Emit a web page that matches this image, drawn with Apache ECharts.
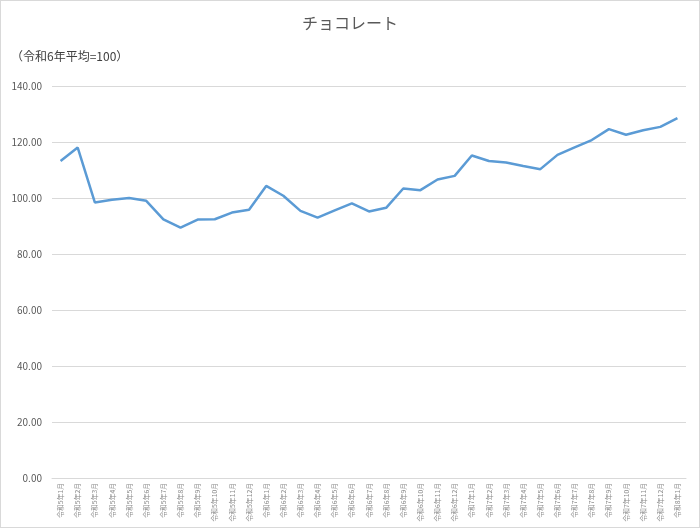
<!DOCTYPE html>
<html>
<head>
<meta charset="utf-8">
<script src="https://cdn.jsdelivr.net/npm/echarts@6/dist/echarts.min.js"></script>
<style>
html,body{margin:0;padding:0;background:#fff;}
#c{width:698px;height:526px;border:1px solid #d9d9d9;}
</style>
</head>
<body>
<div id="c"></div>
<script>
const categories = [
  "令和5年1月","令和5年2月","令和5年3月","令和5年4月","令和5年5月","令和5年6月",
  "令和5年7月","令和5年8月","令和5年9月","令和5年10月","令和5年11月","令和5年12月",
  "令和6年1月","令和6年2月","令和6年3月","令和6年4月","令和6年5月","令和6年6月",
  "令和6年7月","令和6年8月","令和6年9月","令和6年10月","令和6年11月","令和6年12月",
  "令和7年1月","令和7年2月","令和7年3月","令和7年4月","令和7年5月","令和7年6月",
  "令和7年7月","令和7年8月","令和7年9月","令和7年10月","令和7年11月","令和7年12月",
  "令和8年1月"
];
const values = [
  113.2,118.0,98.4,99.4,100.0,99.0,
  92.4,89.4,92.3,92.4,94.8,95.8,
  104.3,100.8,95.4,93.0,95.6,98.1,
  95.2,96.5,103.4,102.8,106.6,107.9,
  115.2,113.2,112.7,111.4,110.3,115.4,
  118.1,120.7,124.6,122.6,124.2,125.4,
  128.5
];
const yTicks = {min:0, max:140, interval:20};
const titleText = "チョコレート";
const subText = "（令和6年平均=100）";

const font = '"Noto Sans CJK JP","Noto Sans",sans-serif';
const chart = echarts.init(document.getElementById('c'));
chart.setOption({
  animation:false,
  textStyle:{fontFamily:font},
  title:[
    {text:titleText,left:'center',top:9,textStyle:{fontSize:16,fontWeight:'normal',color:'#595959',fontFamily:font}},
    {text:subText,left:5,top:44,textStyle:{fontSize:12,fontWeight:'normal',color:'#404040',fontFamily:font}}
  ],
  grid:{left:51,right:13,top:85,bottom:49,containLabel:false},
  xAxis:{
    type:'category',
    data:categories,
    boundaryGap:true,
    axisLine:{lineStyle:{color:'#d9d9d9',width:1}},
    axisTick:{show:false},
    axisLabel:{rotate:90,interval:0,fontSize:6.8,color:'#8c8c8c',margin:5,fontFamily:font}
  },
  yAxis:{
    type:'value',
    min:yTicks.min,max:yTicks.max,interval:yTicks.interval,
    axisLine:{show:false},
    axisTick:{show:false},
    splitLine:{lineStyle:{color:'#d9d9d9',width:1}},
    axisLabel:{fontSize:10,color:'#595959',margin:10,formatter:v=>v.toFixed(2),fontFamily:font}
  },
  series:[{
    type:'line',
    data:values,
    symbol:'none',
    lineStyle:{color:'#5b9bd5',width:2.5},
    itemStyle:{color:'#5b9bd5'}
  }]
});
</script>
</body>
</html>
